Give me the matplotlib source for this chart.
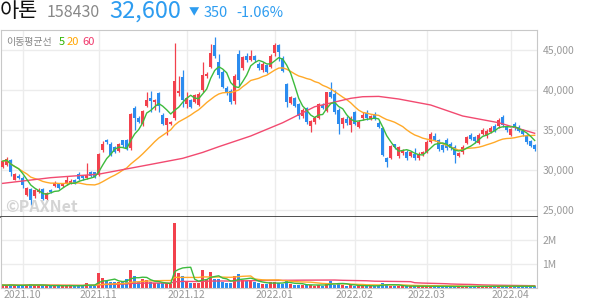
import numpy as np
import pandas as pd
import matplotlib
matplotlib.use('Agg')
import matplotlib.pyplot as plt

plt.rcParams['font.family'] = ['Noto Sans CJK KR', 'DejaVu Sans']

# ---------------- data ----------------
holidays = ['2021-10-04', '2021-10-11', '2021-12-31', '2022-01-31',
            '2022-02-01', '2022-02-02', '2022-03-01', '2022-03-09']
dates = [d for d in pd.bdate_range('2021-09-24', '2022-04-11')
         if d.strftime('%Y-%m-%d') not in holidays]

open_ = [30400, 30650, 31250, 28800, 29300, 29000, 26900, 27600, 26750, 27250,
         27600, 26400, 27500, 28000, 28250, 28000, 28250, 28400, 28750, 29500,
         29250, 29000, 29750, 29700, 29400, 32500, 33700, 33300, 32900, 32400,
         33700, 33800, 32700, 37800, 36500, 35700, 38050, 38950, 38550, 39600,
         36900, 35600, 35750, 36450, 39600, 41600, 38300, 38700, 38550, 38150,
         40000, 41700, 42850, 45600, 43500, 42300, 40300, 39900, 38600, 44500,
         42700, 44300, 43800, 44200, 43300, 42500, 43100, 42900, 44600, 45600,
         44000, 40800, 38350, 38950, 38300, 36700, 37750, 35450, 35950, 36550,
         38100, 37400, 39700, 39550, 37500, 35700, 36400, 35600, 37200, 35400,
         36500, 37100, 36350, 37000, 35900, 35200, 31450, 31550, 33200, 31700,
         32100, 32300, 31800, 32000, 31500, 32000, 32300, 33550, 34300, 33750,
         33100, 33800, 33300, 32900, 31750, 32200, 33400, 34400, 34100, 33350,
         34500, 34200, 34800, 35500, 35500, 36600, 35400, 34400, 35800, 35400,
         34900, 34300, 33600, 33100]
high = [31300, 31600, 31400, 29600, 29500, 29200, 27900, 27800, 27600, 27700,
        27800, 27200, 27600, 28600, 28400, 28300, 29250, 28900, 28900, 29800,
        29400, 30900, 29900, 29800, 32100, 33600, 33900, 33500, 33000, 33400,
        33800, 33900, 37100, 38000, 36700, 37500, 39800, 39900, 38900, 39700,
        37100, 36500, 36100, 45900, 41800, 42500, 39700, 38900, 39500, 39700,
        43500, 42200, 45700, 46600, 44500, 42500, 40500, 40100, 42000, 45000,
        44300, 44600, 45000, 44400, 43500, 43500, 43300, 44500, 45900, 45800,
        44300, 40900, 39300, 39100, 38400, 37700, 37900, 36300, 36700, 38400,
        38400, 39800, 40950, 40000, 37700, 36600, 36700, 36800, 37400, 36200,
        37200, 37500, 36900, 37200, 36100, 35400, 31600, 33100, 33300, 33000,
        32600, 32500, 32400, 32800, 32200, 32400, 33700, 34700, 34600, 33900,
        33400, 34000, 33500, 33100, 32300, 33100, 34300, 34600, 34300, 34600,
        35300, 35100, 35500, 35700, 36500, 36900, 35600, 35300, 36000, 35600,
        35100, 34500, 33800, 33300]
low = [30200, 30500, 29300, 28700, 28900, 27800, 26800, 25600, 26500, 27100,
       26200, 26300, 27100, 27900, 27600, 27900, 28100, 28300, 28300, 28700,
       28800, 28900, 29100, 29000, 29300, 32200, 33300, 31800, 32100, 32200,
       32900, 32500, 32500, 35000, 35900, 35500, 37900, 37300, 37500, 37300,
       35600, 34400, 35600, 36300, 39200, 37900, 37700, 37800, 38400, 38000,
       39800, 41500, 42700, 44000, 41500, 40200, 39400, 38300, 38300, 40500,
       42500, 43500, 43600, 43500, 42500, 42300, 42100, 42700, 44300, 43600,
       42200, 37900, 38200, 37900, 36400, 36500, 35800, 34700, 35800, 36400,
       37600, 37200, 39000, 37000, 34450, 35300, 35600, 34800, 35600, 35200,
       36200, 36300, 36200, 36200, 35200, 31700, 30400, 31400, 32600, 31500,
       31900, 31200, 31600, 31200, 31300, 31800, 32100, 33400, 33600, 32400,
       32300, 32500, 32500, 30900, 31600, 32000, 33200, 33700, 33400, 33200,
       34400, 34000, 34600, 34700, 35300, 35400, 34800, 34200, 35000, 34700,
       34300, 33300, 32900, 32400]
close = [31100, 31350, 29800, 29500, 29000, 28150, 27750, 26250, 27500, 27500,
         26400, 27100, 27250, 28400, 27750, 28200, 28750, 28600, 28400, 28900,
         29000, 29400, 29250, 29150, 32000, 33300, 33450, 31900, 32300, 33300,
         33100, 32700, 37000, 36450, 36000, 37400, 38750, 38650, 38750, 38000,
         35750, 36450, 36050, 41100, 39900, 38800, 39000, 37900, 39350, 39550,
         41850, 41950, 44650, 44200, 41900, 40400, 39600, 38550, 41700, 41300,
         44100, 43700, 44300, 43700, 42700, 43300, 42300, 44300, 45600, 44700,
         42400, 38550, 39150, 38050, 36700, 37500, 36000, 36100, 36500, 38300,
         37800, 39700, 39150, 37300, 35700, 36450, 35900, 36500, 35800, 36000,
         36900, 36500, 36700, 36400, 35400, 31900, 31050, 33000, 32900, 32900,
         32400, 31500, 32200, 31500, 32000, 32200, 33500, 34500, 33800, 32600,
         32500, 32700, 32700, 31900, 32100, 32900, 34100, 33900, 33600, 34400,
         35000, 34900, 35300, 34900, 36300, 35600, 35000, 35100, 35200, 34900,
         34500, 33500, 32950, 32600]
volume = [100000, 90000, 120000, 80000, 70000, 100000, 120000, 140000, 90000, 60000,
          100000, 80000, 60000, 90000, 70000, 60000, 100000, 70000, 60000, 90000,
          70000, 190000, 80000, 70000, 610000, 400000, 260000, 240000, 240000, 240000,
          260000, 350000, 720000, 470000, 240000, 370000, 300000, 240000, 170000, 170000,
          170000, 170000, 140000, 2690000, 610000, 470000, 260000, 190000, 190000, 200000,
          720000, 350000, 650000, 370000, 350000, 240000, 190000, 190000, 470000, 560000,
          330000, 280000, 310000, 240000, 170000, 140000, 140000, 240000, 240000, 170000,
          140000, 330000, 140000, 100000, 120000, 100000, 120000, 100000, 80000, 120000,
          80000, 140000, 280000, 120000, 200000, 100000, 80000, 90000, 80000, 70000,
          80000, 70000, 60000, 70000, 80000, 200000, 150000, 80000, 60000, 70000,
          50000, 60000, 50000, 60000, 50000, 50000, 50000, 60000, 50000, 40000,
          50000, 40000, 40000, 50000, 40000, 50000, 50000, 40000, 40000, 50000,
          60000, 50000, 50000, 40000, 60000, 70000, 50000, 50000, 60000, 50000,
          50000, 60000, 50000, 50000]

# 60-day moving average of price at some trading days
ma60_day = [0, 12, 24, 37, 45, 50, 54, 62, 70, 78, 87, 90, 94, 99, 107, 115, 124, 133]
ma60_val = [28330, 29040, 29480, 30700, 31460, 32200, 32910, 34250, 35910, 37910,
            38960, 39160, 39200, 38875, 38125, 36750, 35910, 34590]

price_ticks = [25000, 30000, 35000, 40000, 45000]
vol_ticks = [1000000, 2000000]
vol_tick_labels = ['1M', '2M']

# ---------------- style ----------------
RED = '#f2414d'
BLUE = '#2b8cef'
C5 = '#3dbb3d'
C20 = '#ffa928'
C60 = '#f24a70'
GRID = '#ececec'
FRAME = '#c8c8c8'
TXT = '#999999'
HBLUE = '#2d9cf0'

W, H = 594, 304
fig = plt.figure(figsize=(W / 100, H / 100), dpi=100)


def fx(px):
    return px / W


def fy(py):
    return 1 - py / H


ax = fig.add_axes([fx(1), fy(217), fx(537) - fx(1), fy(30) - fy(217)])
axv = fig.add_axes([fx(1), fy(287.5), fx(537) - fx(1), fy(217) - fy(287.5)])

n = len(close)
idx = np.arange(n)
o = np.array(open_)
c = np.array(close)
hi = np.array(high)
lo = np.array(low)
v = np.array(volume)
up = c >= o
cols = np.where(up, RED, BLUE)

# month ticks from the trading calendar
month_pos, month_lab = [], []
for i, d in enumerate(dates):
    if i > 0 and d.month != dates[i - 1].month:
        month_pos.append(i)
        month_lab.append(d.strftime('%Y.%m'))

xmin, xmax = -0.43, 133.58

# ---- price panel ----
for a in (ax, axv):
    a.set_xlim(xmin, xmax)
    for xp in month_pos:
        a.axvline(xp, color=GRID, lw=1, zorder=0)

for yp in price_ticks:
    ax.axhline(yp, color=GRID, lw=1, zorder=0)

ax.vlines(idx, lo, hi, colors=cols, lw=0.9, zorder=2)
body_h = np.maximum(np.abs(c - o), 60)
ax.bar(idx, body_h, bottom=np.minimum(o, c), width=0.72, color=cols,
       linewidth=0, zorder=3)

s = pd.Series(c)
ma5 = s.rolling(5, min_periods=1).mean()
ma20 = s.rolling(20, min_periods=1).mean()
ax.plot(idx, ma20, color=C20, lw=1.0, zorder=4)
ax.plot(ma60_day, ma60_val, color=C60, lw=1.0, zorder=4)
ax.plot(idx, ma5, color=C5, lw=1.0, zorder=5)

ax.set_ylim(24125, 47500)
ax.yaxis.tick_right()
ax.set_yticks(price_ticks)
ax.set_yticklabels([f'{t:,}' for t in price_ticks])
ax.tick_params(axis='y', length=0, pad=4, labelsize=7.5, labelcolor=TXT)
ax.set_xticks([])
for sp in ('left', 'top', 'right'):
    ax.spines[sp].set_color(FRAME)
    ax.spines[sp].set_linewidth(0.8)
ax.spines['bottom'].set_color('#333333')
ax.spines['bottom'].set_linewidth(1.2)
ax.spines['bottom'].set_zorder(10)

# legend text
fig.text(fx(6), fy(45), '이동평균선', fontsize=7.2, color='#888888')
fig.text(fx(59), fy(45), '5', fontsize=8, color='#2db400')
fig.text(fx(67), fy(45), '20', fontsize=8, color='#ffa500')
fig.text(fx(82), fy(45), '60', fontsize=8, color='#f0386b')

# watermark
fig.text(fx(5), fy(212), '©PAXNet', fontsize=11.5, fontweight='bold',
         color='#d4d4d4', zorder=1)

# ---- volume panel ----
for yp in vol_ticks:
    axv.axhline(yp, color=GRID, lw=1, zorder=0)
axv.bar(idx, v, width=0.72, color=cols, linewidth=0, zorder=2)
vs = pd.Series(v)
axv.plot(idx, vs.rolling(60, min_periods=1).mean(), color=C60, lw=1.0, zorder=3)
axv.plot(idx, vs.rolling(20, min_periods=1).mean(), color=C20, lw=1.0, zorder=4)
axv.plot(idx, vs.rolling(5, min_periods=1).mean(), color=C5, lw=1.0, zorder=5)
axv.set_ylim(0, 2940000)
axv.yaxis.tick_right()
axv.set_yticks(vol_ticks)
axv.set_yticklabels(vol_tick_labels)
axv.tick_params(axis='y', length=0, pad=4, labelsize=7.5, labelcolor=TXT)
axv.set_xticks(month_pos)
axv.set_xticklabels(month_lab)
axv.tick_params(axis='x', length=0, pad=2, labelsize=7.5, labelcolor=TXT)
for sp in ('left', 'right', 'bottom'):
    axv.spines[sp].set_color(FRAME)
    axv.spines[sp].set_linewidth(0.8)
axv.spines['top'].set_visible(False)

# ---- header ----
fig.text(fx(0), fy(17), '아톤', fontsize=15, color='#111111')
fig.text(fx(47), fy(17), '158430', fontsize=11.5, color='#888888')
fig.text(fx(109), fy(17.5), '32,600', fontsize=17, color=HBLUE)
fig.text(fx(189), fy(15), '▼', fontsize=7.5, color=HBLUE)
fig.text(fx(204), fy(17), '350', fontsize=10.5, color=HBLUE)
fig.text(fx(236), fy(17), '-1.06%', fontsize=10.5, color=HBLUE)

fig.savefig('out.png', dpi=100)
